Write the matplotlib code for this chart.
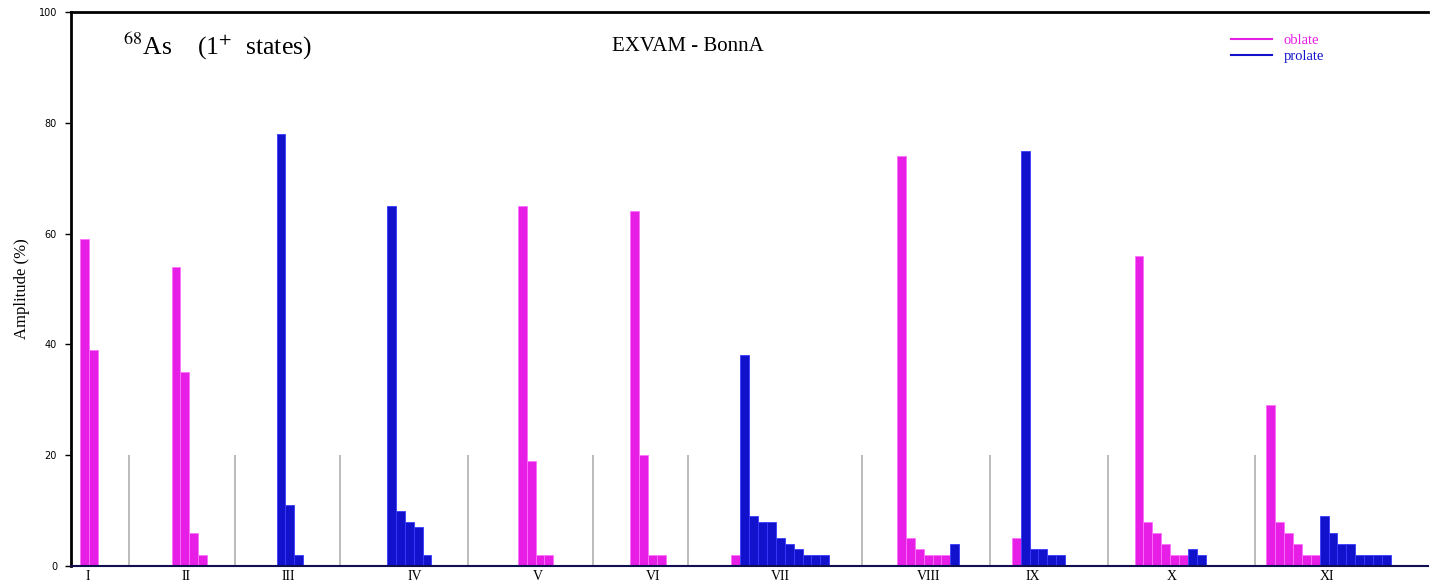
import matplotlib.pyplot as plt

plt.rcParams["mathtext.fontset"] = "stix"

# amplitudes (%) per state, oblate / prolate components in drawing order
labels = ["I", "II", "III", "IV", "V", "VI", "VII", "VIII", "IX", "X", "XI"]
oblate = [
    [59, 39],
    [54, 35, 6, 2],
    [],
    [],
    [65, 19, 2, 2],
    [64, 20, 2, 2],
    [2],
    [74, 5, 3, 2, 2, 2],
    [5],
    [56, 8, 6, 4, 2, 2],
    [29, 8, 6, 4, 2, 2],
]
prolate = [
    [],
    [],
    [78, 11, 2],
    [65, 10, 8, 7, 2],
    [],
    [],
    [38, 9, 8, 8, 5, 4, 3, 2, 2, 2],
    [4],
    [75, 3, 3, 2, 2],
    [3, 2],
    [9, 6, 4, 4, 2, 2, 2, 2],
]

# layout, in bar-width units from the left axis
group_start = [1.0, 11.3, 23.1, 35.5, 50.2, 62.8, 74.2, 92.8, 105.7, 119.5, 134.3]
label_pos = [1.9, 12.9, 24.4, 38.6, 52.5, 65.4, 79.7, 96.4, 108.1, 123.7, 141.1]
separators = [6.5, 18.4, 30.2, 44.6, 58.6, 69.3, 88.9, 103.3, 116.5, 133.0]

MAG = "#e61ee6"
BLU = "#1212cc"

fig = plt.figure(figsize=(14.31, 5.85), dpi=100)
ax = fig.add_axes([71 / 1431, 1 - 566 / 585, (1428 - 71) / 1431, (566 - 12) / 585])

for start, ob, pr in zip(group_start, oblate, prolate):
    xs = [start + i for i in range(len(ob) + len(pr))]
    cols = [MAG] * len(ob) + [BLU] * len(pr)
    ax.bar(xs, ob + pr, width=1.0, align="edge", color=cols,
           edgecolor=["#ff70ff"] * len(ob) + ["#3a3aff"] * len(pr), linewidth=0.6, zorder=2)

ax.vlines(separators, 0, 20, color="#b0b0b0", linewidth=1.2, zorder=1)

ax.set_xlim(0, (1428 - 71) / 8.9)
ax.set_ylim(0, 100)
ax.set_xticks(label_pos)
ax.set_xticklabels(labels, family="Liberation Serif", fontsize=10)
ax.tick_params(axis="x", length=0, pad=3)
ax.set_yticks([0, 20, 40, 60, 80, 100])
ax.tick_params(axis="y", direction="out", length=4, width=1, labelsize=7, pad=6)
ax.set_ylabel("Amplitude (%)", family="Liberation Serif", fontsize=12, labelpad=6)

for s in ["left", "top"]:
    ax.spines[s].set_linewidth(2)
    ax.spines[s].set_color("black")
ax.spines["bottom"].set_color("#101050")
ax.spines["bottom"].set_linewidth(1.5)
ax.spines["right"].set_visible(False)

ax.text(0.038, 0.937, r"$^{68}$As    (1$^{+}$  states)", transform=ax.transAxes,
        family="Liberation Serif", fontsize=18.5, va="center")
ax.text(0.399, 0.937, "EXVAM - BonnA", transform=ax.transAxes,
        family="Liberation Serif", fontsize=15, va="center")

ax.plot([], [], color=MAG, lw=1.5, label="oblate")
ax.plot([], [], color=BLU, lw=1.5, label="prolate")
leg = ax.legend(loc="upper left", bbox_to_anchor=(0.845, 0.985), frameon=False,
                prop={"family": "Liberation Serif", "size": 10.5}, handlelength=2.8,
                labelspacing=0.25)
for t, c in zip(leg.get_texts(), [MAG, BLU]):
    t.set_color(c)

fig.savefig("out.png")
